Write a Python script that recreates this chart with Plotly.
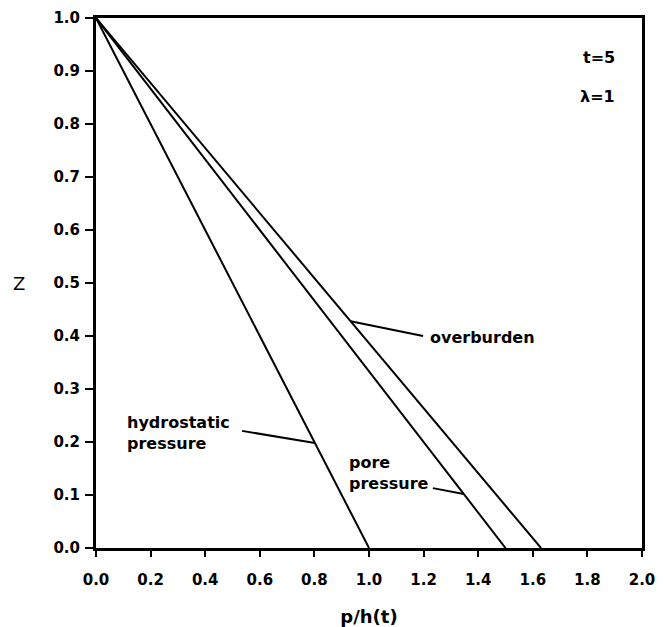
import plotly.graph_objects as go
import numpy as np

# Data
z = [1.0, 0.0]
hydrostatic = [0.0, 1.0]
pore_pressure = [0.0, 1.50]
overburden = [0.0, 1.63]

x_ticks = [0.0, 0.2, 0.4, 0.6, 0.8, 1.0, 1.2, 1.4, 1.6, 1.8, 2.0]
y_ticks = [0.0, 0.1, 0.2, 0.3, 0.4, 0.5, 0.6, 0.7, 0.8, 0.9, 1.0]

FONT = "DejaVu Sans"

def x_at(series, zz):
    # position on a series at a given Z (series is linear in Z)
    return float(np.interp(zz, z[::-1], series[::-1]))

fig = go.Figure()
for s in [hydrostatic, pore_pressure, overburden]:
    fig.add_trace(go.Scatter(x=s, y=z, mode="lines",
                             line=dict(color="black", width=2),
                             showlegend=False, hoverinfo="skip"))

# Labels (text) and leader lines
labels = [
    dict(text="hydrostatic<br>pressure", x=0.106, y=0.217, series=hydrostatic, tail=(0.535, 0.221), zhead=0.198),
    dict(text="pore<br>pressure", x=0.92, y=0.1415, series=pore_pressure, tail=(1.234, 0.113), zhead=0.102),
    dict(text="overburden", x=1.215, y=0.398, series=overburden, tail=(1.198, 0.400), zhead=0.428),
]
for lab in labels:
    fig.add_annotation(x=lab["x"], y=lab["y"], text=lab["text"], showarrow=False,
                       xanchor="left", yanchor="middle", align="left",
                       font=dict(family=FONT, size=16, color="black", weight="bold"))
    fig.add_shape(type="line", x0=lab["tail"][0], y0=lab["tail"][1],
                  x1=x_at(lab["series"], lab["zhead"]), y1=lab["zhead"],
                  line=dict(color="black", width=2))

fig.add_annotation(x=1.91, y=0.926, text="t=5", showarrow=False, xanchor="right",
                   font=dict(family=FONT, size=16, color="black", weight="bold"))
fig.add_annotation(x=1.91, y=0.851, text="λ=1", showarrow=False, xanchor="right",
                   font=dict(family=FONT, size=16, color="black", weight="bold"))

# Y-axis title, horizontal like the reference
fig.add_annotation(xref="paper", yref="y", x=-0.141, y=0.5, text="Z", showarrow=False,
                   xanchor="center", yanchor="middle",
                   font=dict(family=FONT, size=18, color="black"))

axis_common = dict(showgrid=False, zeroline=False, showline=True, linecolor="black",
                   linewidth=3, mirror=True, ticks="outside", tickwidth=2,
                   tickcolor="black", automargin=False,
                   tickfont=dict(family=FONT, size=15, color="black", weight="bold"))

fig.update_xaxes(range=[0, 2.0], tickvals=x_ticks, ticktext=[f"{v:.1f}" for v in x_ticks],
                 ticklen=6, ticklabelstandoff=10,
                 title=dict(text="p/h(t)", font=dict(family=FONT, size=18, color="black", weight="bold"),
                            standoff=25),
                 **axis_common)
fig.update_yaxes(range=[0, 1.0], tickvals=y_ticks, ticktext=[f"{v:.1f}" for v in y_ticks],
                 ticklen=8, ticklabelstandoff=2,
                 **axis_common)

fig.update_layout(width=664, height=627, margin=dict(l=96, r=22, t=18, b=79),
                  paper_bgcolor="white", plot_bgcolor="white")

fig.write_html("out.html")
